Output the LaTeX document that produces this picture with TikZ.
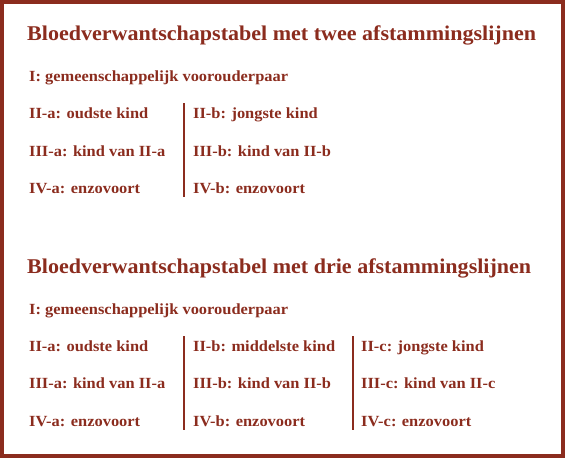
\documentclass[tikz,border=0pt]{standalone}
\usepackage{fontspec}
\setmainfont{Liberation Serif}
\newfontfamily\kopfont[FakeStretch=1.05]{Liberation Serif}
\newfontfamily\regelfont[FakeStretch=1.06]{Liberation Serif}
\usepackage{tikz}
\definecolor{bloedrood}{RGB}{139,44,30}
\tikzset{
  kop/.style={anchor=base west, inner sep=0pt, text=bloedrood, font=\kopfont\bfseries\fontsize{21}{24}\selectfont},
  regel/.style={anchor=base west, inner sep=0pt, text=bloedrood, font=\regelfont\bfseries\fontsize{15.5}{18}\selectfont},
  scheiding/.style={draw=bloedrood, line width=1.6pt}
}

\begin{document}
\begin{tikzpicture}[x=1pt,y=-1pt]
            \useasboundingbox (0,0) rectangle (565,458);
            \draw[bloedrood, line width=3.6pt] (1.8,1.8) rectangle (563.2,456.2);
            % twee afstammingslijnen
            \node[kop] (kop1) at (27,40) {Bloedverwantschapstabel met twee afstammingslijnen};
            \node[regel] (stam1) at (29,81) {I: gemeenschappelijk voorouderpaar};
            \node[regel] (IIa1) at (29,118) {II-a: oudste kind};
            \node[regel] (IIIa1) at (29,156) {III-a: kind van II-a};
            \node[regel] (IVa1) at (29,193) {IV-a: enzovoort};
            \node[regel] (IIb1) at (193,118) {II-b: jongste kind};
            \node[regel] (IIIb1) at (193,156) {III-b: kind van II-b};
            \node[regel] (IVb1) at (193,193) {IV-b: enzovoort};
            \coordinate (ab1top) at (184,103);
            \coordinate (ab1bot) at (184,197);
            \draw[scheiding] (ab1top) -- (ab1bot);
            % drie afstammingslijnen
            \node[kop] (kop2) at (27,273) {Bloedverwantschapstabel met drie afstammingslijnen};
            \node[regel] (stam2) at (29,314) {I: gemeenschappelijk voorouderpaar};
            \node[regel] (IIa2) at (29,351) {II-a: oudste kind};
            \node[regel] (IIIa2) at (29,388) {III-a: kind van II-a};
            \node[regel] (IVa2) at (29,426) {IV-a: enzovoort};
            \node[regel] (IIb2) at (193,351) {II-b: middelste kind};
            \node[regel] (IIIb2) at (193,388) {III-b: kind van II-b};
            \node[regel] (IVb2) at (193,426) {IV-b: enzovoort};
            \node[regel] (IIc2) at (361,351) {II-c: jongste kind};
            \node[regel] (IIIc2) at (361,388) {III-c: kind van II-c};
            \node[regel] (IVc2) at (361,426) {IV-c: enzovoort};
            \coordinate (ab2top) at (184,336);
            \coordinate (ab2bot) at (184,430);
            \coordinate (bc2top) at (353,336);
            \coordinate (bc2bot) at (353,430);
            \draw[scheiding] (ab2top) -- (ab2bot);
            \draw[scheiding] (bc2top) -- (bc2bot);
        \end{tikzpicture}
\end{document}
